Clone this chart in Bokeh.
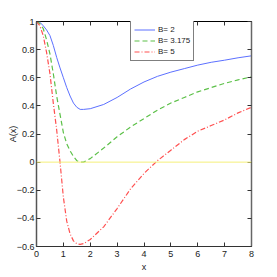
from bokeh.plotting import figure
from bokeh.models import LinearAxis, Span, Legend, LegendItem, FixedTicker, CustomJSTickFormatter, Range1d
from bokeh.embed import file_html
from bokeh.resources import INLINE

x = [0, 0.125, 0.25, 0.375, 0.5, 0.625, 0.75, 0.875, 1.0, 1.125, 1.25, 1.375, 1.5, 1.625, 1.75,
     2.0, 2.5, 3.0, 3.5, 4.0, 4.5, 5.0, 5.5, 6.0, 6.5, 7.0, 7.5, 8.0]
y_b2 = [1.0, 0.995, 0.97, 0.94, 0.90, 0.83, 0.745, 0.67, 0.60, 0.53, 0.47, 0.42, 0.39, 0.375, 0.375,
        0.38, 0.41, 0.46, 0.52, 0.57, 0.61, 0.64, 0.665, 0.69, 0.71, 0.725, 0.742, 0.756]
y_b3 = [1.0, 0.985, 0.95, 0.87, 0.77, 0.63, 0.47, 0.34, 0.21, 0.13, 0.08, 0.04, 0.01, 0.0, 0.0,
        0.025, 0.10, 0.18, 0.25, 0.31, 0.37, 0.42, 0.46, 0.50, 0.53, 0.56, 0.585, 0.607]
y_b5 = [1.0, 0.97, 0.90, 0.78, 0.63, 0.42, 0.23, 0.0, -0.25, -0.42, -0.51, -0.56, -0.58, -0.585, -0.58,
        -0.55, -0.46, -0.33, -0.19, -0.08, 0.01, 0.085, 0.16, 0.22, 0.26, 0.30, 0.35, 0.39]
labels = ["B= 2", "B= 3.175", "B= 5"]
x_ticks = [0, 1, 2, 3, 4, 5, 6, 7, 8]
y_ticks = [-0.6, -0.4, -0.2, 0, 0.2, 0.4, 0.6, 0.8, 1]

FONT = "Liberation Sans"

p = figure(width=277, height=277, output_backend="svg", toolbar_location=None,
           x_range=Range1d(0, 8), y_range=Range1d(-0.6, 1),
           min_border_left=36, min_border_right=26, min_border_top=21, min_border_bottom=31,
           x_axis_label="x", y_axis_label="A(x)")
p.grid.visible = False
p.outline_line_color = "black"
p.background_fill_color = "white"
p.border_fill_color = "white"

def style(ax, ticks):
    ax.ticker = FixedTicker(ticks=ticks)
    ax.major_tick_in = 4
    ax.major_tick_out = 0
    ax.minor_tick_line_color = None
    ax.axis_line_color = "#333333"
    ax.major_tick_line_color = "#333333"
    ax.major_label_text_font = FONT
    ax.major_label_text_font_size = "9px"
    ax.major_label_text_color = "#222222"
    ax.axis_label_text_font = FONT
    ax.axis_label_text_font_size = "9px"
    ax.axis_label_text_font_style = "normal"
    ax.axis_label_text_color = "#222222"

style(p.xaxis[0], x_ticks)
style(p.yaxis[0], y_ticks)
p.xaxis[0].major_label_standoff = 4
p.xaxis[0].axis_label_standoff = 2
p.yaxis[0].major_label_standoff = 2
p.yaxis[0].axis_label_standoff = -4
p.yaxis[0].axis_line_width = 1.5
p.yaxis[0].axis_line_color = "#555555"

empty = CustomJSTickFormatter(code="return ''")
top = LinearAxis(formatter=empty)
right = LinearAxis(formatter=empty)
style(top, x_ticks)
style(right, y_ticks)
top.major_label_standoff = 0
right.major_label_standoff = 0
right.axis_line_width = 1.5
right.axis_line_color = "#666666"
top.axis_line_color = "black"
p.add_layout(top, "above")
p.add_layout(right, "right")

p.add_layout(Span(location=0, dimension="width", line_color="#f5f07a", line_width=1))

r1 = p.line(x, y_b2, line_color="#5c70ff", line_width=1)
r2 = p.line(x, y_b3, line_color="#5cc048", line_width=1.2, line_dash="5 3")
r3 = p.line(x, y_b5, line_color="#ff5050", line_width=1.2, line_dash="5 2 1 2")

legend = Legend(items=[LegendItem(label=labels[0], renderers=[r1]),
                       LegendItem(label=labels[1], renderers=[r2]),
                       LegendItem(label=labels[2], renderers=[r3])],
                location=(94, 185))
legend.margin = 0
legend.padding = 3
legend.spacing = 0
legend.glyph_width = 21
legend.glyph_height = 11
legend.label_height = 11
legend.label_standoff = 3
legend.label_text_font = FONT
legend.label_text_font_size = "8px"
legend.label_text_color = "#222222"
legend.border_line_color = "black"
legend.border_line_width = 1
legend.background_fill_alpha = 1
p.add_layout(legend)

open("out.html", "w").write(file_html(p, INLINE))
